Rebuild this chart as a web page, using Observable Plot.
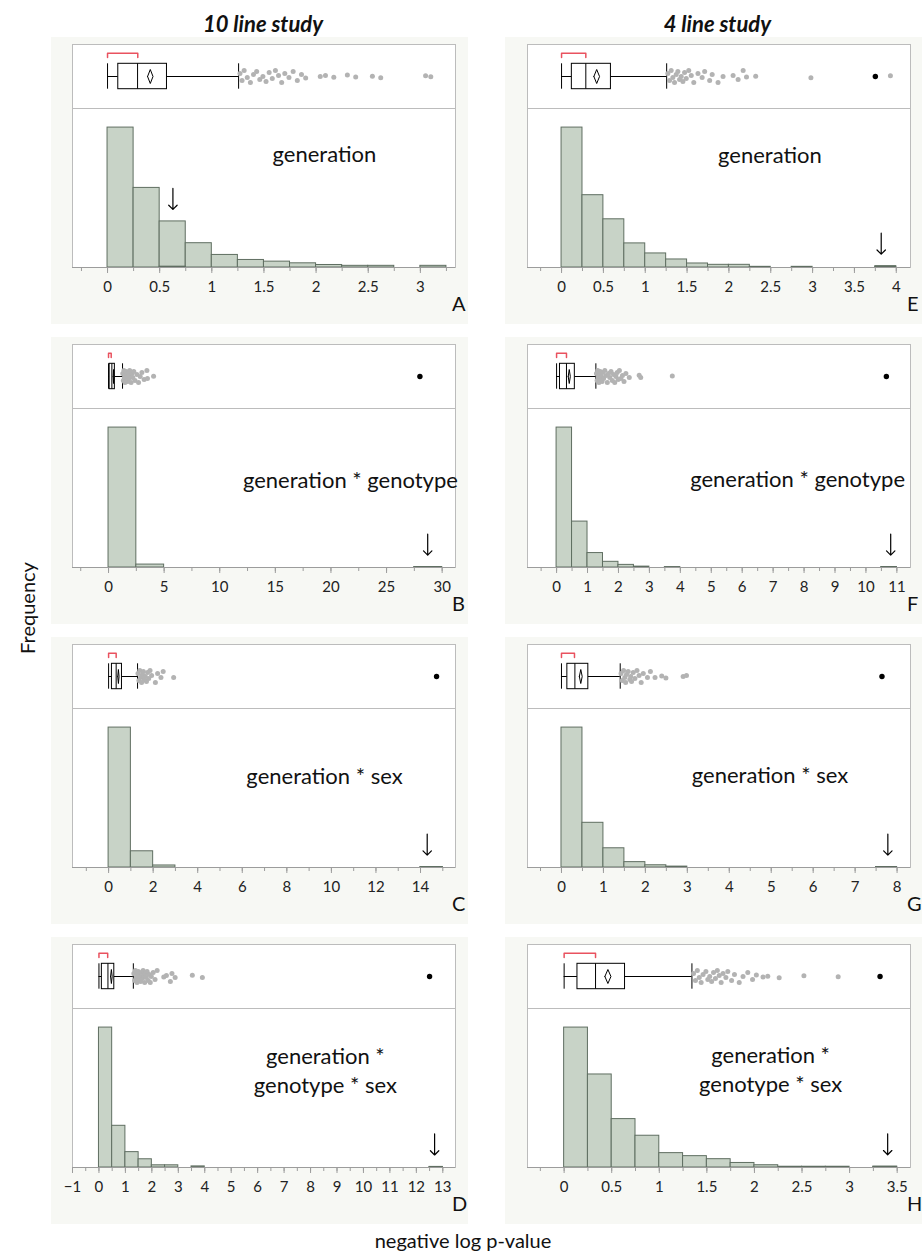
<!DOCTYPE html>
<html><head><meta charset="utf-8">
<script src="https://cdn.jsdelivr.net/npm/d3@7"></script>
<script src="https://cdn.jsdelivr.net/npm/@observablehq/plot@0.6"></script>
<style>
body{margin:0;background:#fff;font-family:Lato,"DejaVu Sans",sans-serif;}
#page{position:relative;width:922px;height:1255px;overflow:hidden;}
.bg{position:absolute;background:#f7f8f4;}
.txt{position:absolute;white-space:nowrap;color:#111;}
.title{font-weight:bold;font-style:italic;font-size:22px;line-height:22px;transform:translateX(-50%);}
.letter{font-size:20px;line-height:20px;}
.axlabel{font-size:20px;line-height:20px;}
svg{position:absolute;}
</style></head>
<body><div id="page"></div>
<script>
// ---------------- data ----------------
const studies = ["10 line study", "4 line study"];
const panelIds = ["A","B","C","D","E","F","G","H"];
const terms = ["generation", "generation * genotype", "generation * sex", "generation *\ngenotype * sex",
               "generation", "generation * genotype", "generation * sex", "generation *\ngenotype * sex"];

// histogram bin widths and counts (bins start at 0)
const binWidth = [0.25, 2.5, 1, 0.5, 0.25, 0.5, 0.5, 0.25];
const countsA = [167,95,55,29,15,9,7,5,3,2,2,0,2];
const countsB = [383,8,0,0,0,0,0,0,0,0,0,1];
const countsC = [345,40,5,0,0,0,0,0,0,0,0,0,0,0,1];
const countsD = [255,76,28,15,4,4,0,2,0,0,0,0,0,0,0,0,0,0,0,0,0,0,0,0,0,1];
const countsE = [209,108,72,36,21,12,6,4,4,1,0,1,0,0,0,2];
const countsF = [320,105,33,13,6,2,0,1,0,0,0,0,0,0,0,0,0,0,0,0,0,1];
const countsG = [313,100,43,12,5,2,0,0,0,0,0,0,0,0,0,1];
const countsH = [185,123,64,42,19,15,11,6,3,1,1,1,0,1];
const counts = [countsA,countsB,countsC,countsD,countsE,countsF,countsG,countsH];

// box plot summaries
const lowerWhisker = [0, 0, 0, 0, 0, 0, 0, 0];
const q1 =           [0.103, 0.10, 0.15, 0.11, 0.123, 0.11, 0.14, 0.14];
const median =       [0.288, 0.30, 0.34, 0.34, 0.29, 0.32, 0.32, 0.33];
const mean =         [0.41, 0.45, 0.44, 0.47, 0.42, 0.41, 0.46, 0.46];
const meanCI =       [0.026, 0.03, 0.03, 0.03, 0.034, 0.034, 0.034, 0.032];
const q3 =           [0.57, 0.57, 0.60, 0.58, 0.59, 0.59, 0.64, 0.64];
const upperWhisker = [1.257, 1.26, 1.30, 1.30, 1.256, 1.27, 1.40, 1.343];
const shortestHalfLo = [0, 0, 0, 0, 0, 0, 0, 0];
const shortestHalfHi = [0.29, 0.24, 0.34, 0.33, 0.29, 0.32, 0.31, 0.33];
const highlighted = [0.63, 28.0, 14.72, 12.5, 3.75, 10.66, 7.64, 3.32];
const arrowAt =     [0.627, 28.7, 14.3, 12.69, 3.82, 10.8, 7.78, 3.4];

// outliers (gray points)
const outliersA = [1.27,1.29,1.31,1.34,1.37,1.40,1.43,1.46,1.49,1.52,1.55,1.58,1.61,1.64,1.67,1.70,1.74,1.78,1.82,1.86,1.90,2.04,2.09,2.17,2.30,2.38,2.54,2.62,3.05,3.10];
const outliersB = [1.28,1.33,1.38,1.43,1.48,1.53,1.58,1.63,1.68,1.73,1.78,1.84,1.90,1.96,2.03,2.10,2.18,2.27,2.38,2.55,2.70,2.85,3.00,3.20,3.45,3.50,4.05];
const outliersC = [1.32,1.36,1.40,1.44,1.48,1.52,1.56,1.60,1.65,1.70,1.75,1.80,1.86,1.93,2.10,2.20,2.35,2.45,2.92];
const outliersD = [1.32,1.35,1.38,1.41,1.44,1.47,1.49,1.52,1.55,1.58,1.61,1.64,1.67,1.70,1.73,1.76,1.79,1.82,1.86,1.90,1.94,1.98,2.05,2.12,2.20,2.45,2.55,2.70,2.76,2.88,3.53,3.91];
const outliersE = [1.27,1.29,1.31,1.33,1.35,1.37,1.39,1.41,1.43,1.45,1.47,1.49,1.52,1.55,1.58,1.63,1.68,1.71,1.77,1.80,1.87,1.93,2.05,2.11,2.17,2.21,2.32,2.98,3.93];
const outliersF = [1.29,1.31,1.33,1.35,1.37,1.39,1.41,1.43,1.45,1.47,1.49,1.52,1.56,1.60,1.64,1.68,1.72,1.76,1.80,1.84,1.88,1.92,1.96,1.99,2.03,2.08,2.13,2.18,2.24,2.35,2.67,2.72,3.74];
const outliersG = [1.42,1.45,1.48,1.51,1.53,1.55,1.59,1.63,1.65,1.67,1.71,1.75,1.80,1.85,1.90,1.95,2.05,2.12,2.23,2.39,2.49,2.90,2.98];
const outliersH = [1.36,1.38,1.40,1.42,1.44,1.46,1.49,1.51,1.53,1.55,1.57,1.59,1.61,1.63,1.65,1.67,1.70,1.72,1.76,1.79,1.84,1.88,1.93,1.98,2.02,2.09,2.14,2.26,2.52,2.88];
const outliers = [outliersA,outliersB,outliersC,outliersD,outliersE,outliersF,outliersG,outliersH];

// axis tick labels
const majorTicks = [
  [0,0.5,1,1.5,2,2.5,3],
  [0,5,10,15,20,25,30],
  [0,2,4,6,8,10,12,14],
  [-1,0,1,2,3,4,5,6,7,8,9,10,11,12,13],
  [0,0.5,1,1.5,2,2.5,3,3.5,4],
  [0,1,2,3,4,5,6,7,8,9,10,11],
  [0,1,2,3,4,5,6,7,8],
  [0,0.5,1,1.5,2,2.5,3,3.5]
];
const minorStep = [0.25, 2.5, 1, 0.5, 0.25, 0.5, 0.5, 0.25];
const xDomains = [[-0.336,3.337],[-3.24,31.2],[-1.62,15.57],[-1.0,13.48],[-0.407,4.17],[-0.94,11.44],[-0.81,8.32],[-0.385,3.64]];

// annotation placement (x in data units, y offset in px from top of histogram)
const labelX = [2.08, 21.75, 9.69, 8.56, 2.49, 7.79, 4.97, 2.17];
const labelDy = [44.7, 70.3, 66, 60.5, 45, 69, 65, 59.7];

// ---------------- layout & style ----------------
const FONT = "Lato, 'DejaVu Sans', sans-serif";
const frameLeft = [72.3, 526.7];
const frameTop = [44, 344, 644, 944];
const FW = 383, BH = 64, HH = 159, SIDE = 25, BOX = 12.7;
const FRAME = "#bcbcbc", AXIS = "#9c9c9c", BAR = "#c8d3c7", BAR_STROKE = "#5f6e61", DARK = "#6b796b";
const GRAY = "#b3b3b3", RED = "#e9525f";
const jitterPattern = [3,-4,6,-1,-6,2,5,-3,0,-5,4,-2,6,1,-6,3,-1,5,-4,2,-6,0,4,-3,6,-2,1,-5,3,-1,5,-4,2];
const fmt = d => (d < 0 ? "\u2212" + Math.abs(d) : String(d));

const page = document.getElementById("page");
function addText(cls, text, css) {
  const d = document.createElement("div");
  d.className = "txt " + cls;
  d.textContent = text;
  Object.assign(d.style, css);
  page.appendChild(d);
  return d;
}

for (let p = 0; p < 8; p++) {
  const col = p < 4 ? 0 : 1, row = p % 4;
  const L = frameLeft[col], T = frameTop[row];
  const bg = document.createElement("div");
  bg.className = "bg";
  Object.assign(bg.style, {left: (L - 21.5) + "px", top: (T - 7) + "px", width: "417px", height: "287px"});
  page.appendChild(bg);
}

for (let p = 0; p < 8; p++) {
  const col = p < 4 ? 0 : 1, row = p % 4;
  const L = frameLeft[col], T = frameTop[row];
  const dom = xDomains[p];
  const pxPerUnit = FW / (dom[1] - dom[0]);

  // ---- box plot ----
  const b = {lo: lowerWhisker[p], q1: q1[p], med: median[p], q3: q3[p], hi: upperWhisker[p]};
  const m = mean[p], ci = meanCI[p];
  const diamond = [{x: m - ci, y: 0}, {x: m, y: 7}, {x: m + ci, y: 0}, {x: m, y: -7}, {x: m - ci, y: 0}];
  const bracket = [{x: shortestHalfLo[p], y: 19}, {x: shortestHalfLo[p], y: 23.3}, {x: shortestHalfHi[p], y: 23.3}, {x: shortestHalfHi[p], y: 19}];
  const vals = outliers[p];
  const outs = vals.map((v, i) => {
    const near = vals.filter((w, k) => k !== i && Math.abs(w - v) * pxPerUnit < 6).length;
    const j = jitterPattern[i % jitterPattern.length];
    return {v, j: near >= 2 ? j : j * 0.25};
  });
  const hlDots = highlighted[p] > upperWhisker[p] ? [{v: highlighted[p]}] : [];

  const boxPlot = Plot.plot({
    width: FW + 2 * SIDE, height: BH + 2,
    marginLeft: SIDE, marginRight: SIDE, marginTop: 1, marginBottom: 1,
    x: {domain: dom, axis: null},
    y: {domain: [-BH / 2, BH / 2], axis: null},
    style: {background: "transparent", overflow: "visible"},
    marks: [
      Plot.frame({fill: "white", stroke: FRAME}),
      Plot.ruleY([b], {y: () => 0, x1: "lo", x2: "q1", stroke: "#000"}),
      Plot.ruleY([b], {y: () => 0, x1: "q3", x2: "hi", stroke: "#000"}),
      Plot.ruleX([b], {x: "lo", y1: () => -BOX, y2: () => BOX, stroke: "#000"}),
      Plot.ruleX([b], {x: "hi", y1: () => -BOX, y2: () => BOX, stroke: "#000"}),
      Plot.rect([b], {x1: "q1", x2: "q3", y1: () => -BOX, y2: () => BOX, fill: "white", stroke: "#000"}),
      Plot.ruleX([b], {x: "med", y1: () => -BOX, y2: () => BOX, stroke: "#000"}),
      Plot.line(diamond, {x: "x", y: "y", stroke: "#000", strokeWidth: 1}),
      Plot.line(bracket, {x: "x", y: "y", stroke: RED, strokeWidth: 1.5}),
      Plot.dot(outs, {x: "v", y: "j", r: 2.5, fill: GRAY}),
      Plot.dot(hlDots, {x: "v", y: () => 0, r: 2.7, fill: "#000"})
    ]
  });
  boxPlot.style.left = (L - SIDE) + "px";
  boxPlot.style.top = (T - 1) + "px";
  page.appendChild(boxPlot);

  // ---- histogram ----
  const bw = binWidth[p];
  const bins = counts[p].map((c, i) => ({x1: i * bw, x2: (i + 1) * bw, c})).filter(d => d.c > 0);
  const hi = Math.floor(highlighted[p] / bw);
  const hlBin = [{x1: hi * bw, x2: (hi + 1) * bw, c: 1}];
  const ai = Math.floor(arrowAt[p] / bw);
  const arrowData = [{x: arrowAt[p], c: counts[p][ai]}];
  const minorTicks = d3.range(Math.ceil(dom[0] / minorStep[p]), Math.floor(dom[1] / minorStep[p]) + 1).map(k => k * minorStep[p]);

  const hist = Plot.plot({
    width: FW + 2 * SIDE, height: HH + 1 + 40,
    marginLeft: SIDE, marginRight: SIDE, marginTop: 1, marginBottom: 40,
    x: {domain: dom, label: null},
    y: {domain: [0, d3.max(counts[p]) / 0.88], axis: null},
    style: {background: "transparent", overflow: "visible", fontFamily: FONT},
    marks: [
      Plot.frame({fill: "white", stroke: FRAME}),
      Plot.rectY(bins, {x1: "x1", x2: "x2", y: "c", fill: BAR, stroke: BAR_STROKE, inset: 0}),
      Plot.rectY(hlBin, {x1: "x1", x2: "x2", y: "c", fill: DARK, stroke: BAR_STROKE, inset: 0}),
      Plot.ruleY([0], {stroke: AXIS}),
      Plot.axisX(minorTicks, {tickSize: 4, stroke: AXIS, fill: "none", label: null}),
      Plot.axisX(majorTicks[p], {tickSize: 6, stroke: AXIS, fill: "#222", fontSize: 15, fontFamily: FONT, tickPadding: 8, tickFormat: fmt, label: null}),
      Plot.text([terms[p]], {x: () => labelX[p], frameAnchor: "top", lineAnchor: "middle", dy: labelDy[p], fontSize: 22, fontFamily: FONT, fill: "#111", lineHeight: 1.32}),
      Plot.vector(arrowData, {x: "x", y: "c", length: 21, rotate: 180, anchor: "end", dy: -12, stroke: "#000", strokeWidth: 1.2})
    ]
  });
  hist.style.left = (L - SIDE) + "px";
  hist.style.top = (T + BH - 1) + "px";
  page.appendChild(hist);

  // panel letter
  addText("letter", panelIds[p], {left: (col === 0 ? 452 : 907) + "px", top: (T + 267 - 17.7) + "px"});
}

// titles and axis labels
addText("title", studies[0], {left: "263px", top: "12.5px"});
addText("title", studies[1], {left: "717.4px", top: "12.5px"});
addText("axlabel", "Frequency", {left: "27px", top: "608px", transform: "translate(-50%,-50%) rotate(-90deg)"});
addText("axlabel", "negative log p-value", {left: "463px", top: "1230px", transform: "translateX(-50%)"});
</script>
</body></html>
